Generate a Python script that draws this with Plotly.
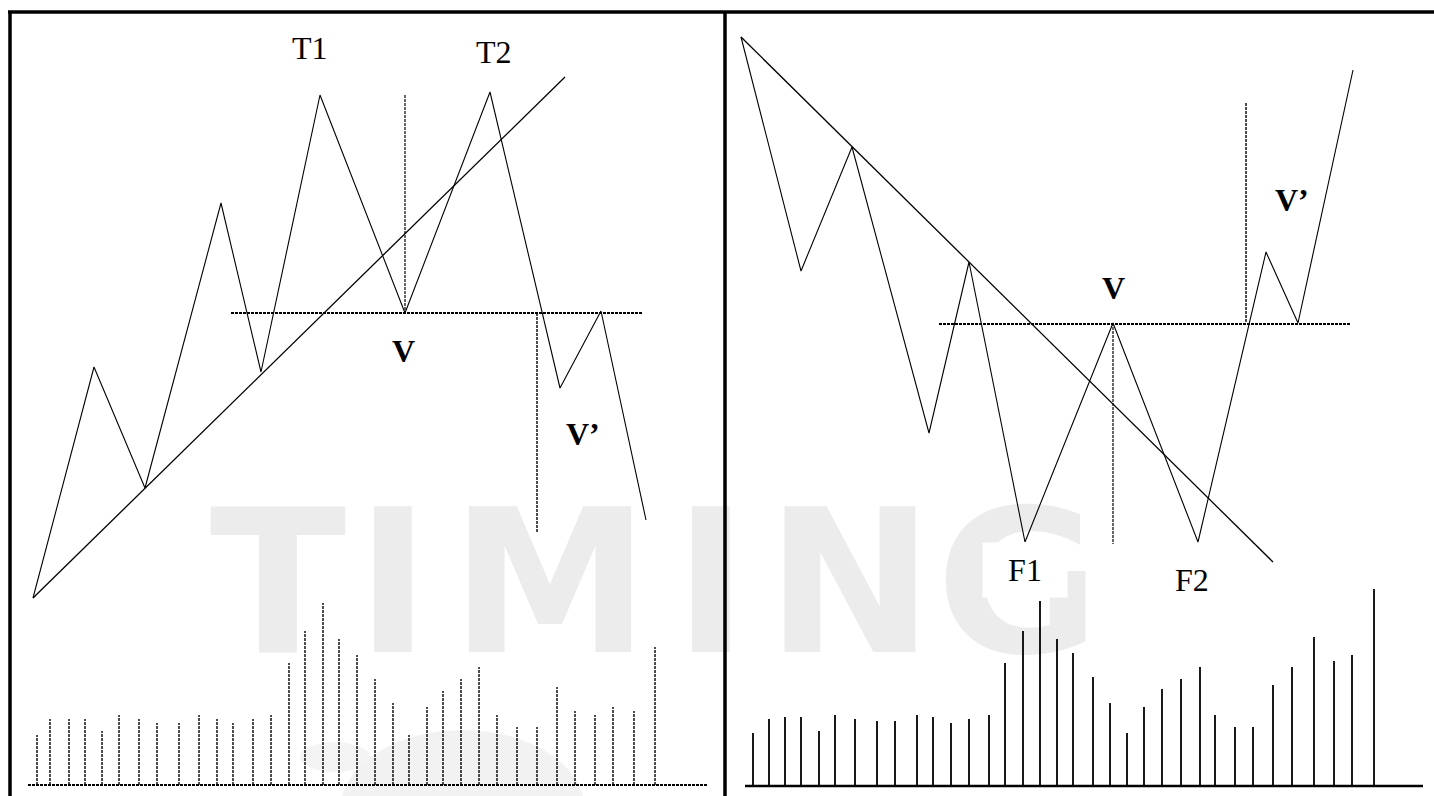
import plotly.graph_objects as go

# Page geometry (axis units = screen pixels, y grows downward)
W, H = 1434, 796
ink = '#000000'
mark_gray = '#ececec'
serif = 'Liberation Serif'

# ---- Left panel: double top ----
top_x = [33, 94, 145, 221, 261, 320, 405, 490, 560, 601, 646]
top_y = [598, 367, 488, 203, 372, 95, 313, 92, 388, 311, 520]
top_trend_x = [33, 565]
top_trend_y = [598, 77]
top_neck_x = [231, 642]
top_neck_y = [313, 313]
top_v_x = [405, 405]
top_v_y = [95, 313]
top_break_x = [537, 537]
top_break_y = [313, 533]

top_vol_x = [37, 50, 69, 85, 102, 119, 139, 157, 179, 199, 217, 233, 253, 271, 289, 305, 323, 339,
             357, 375, 393, 409, 427, 443, 461, 479, 497, 517, 537, 557, 575, 595, 613, 634, 655]
top_vol = [50, 66, 66, 66, 54, 70, 66, 62, 62, 70, 66, 62, 66, 70, 122, 154, 182, 146,
           130, 106, 82, 50, 78, 94, 106, 118, 70, 58, 58, 98, 74, 70, 78, 74, 138]
top_base = 785

# ---- Right panel: double bottom ----
bot_x = [741, 801, 852, 929, 969, 1025, 1113, 1198, 1266, 1298, 1353]
bot_y = [37, 271, 147, 433, 262, 542, 323, 542, 252, 323, 70]
bot_trend_x = [741, 1273]
bot_trend_y = [37, 562]
bot_neck_x = [939, 1350]
bot_neck_y = [324, 324]
bot_v_x = [1113, 1113]
bot_v_y = [323, 544]
bot_break_x = [1246, 1246]
bot_break_y = [103, 323]

bot_vol_x = [753, 769, 785, 801, 819, 835, 855, 877, 895, 917, 933, 951, 969, 989, 1005, 1023, 1040, 1057,
             1073, 1093, 1110, 1127, 1144, 1162, 1181, 1200, 1215, 1235, 1253, 1273, 1292, 1314, 1334, 1352, 1374]
bot_vol = [53, 67, 69, 69, 55, 71, 67, 65, 65, 71, 69, 63, 67, 71, 123, 155, 185, 147,
           133, 109, 83, 53, 79, 97, 107, 119, 71, 59, 59, 101, 119, 149, 125, 131, 197]
bot_base = 786

# Watermark letters
mark_letters = ['T', 'I', 'M', 'I', 'N', 'G']
mark_x = [278, 393, 550, 711, 850, 1018]
mark_y = [602] * 6


def stems(xs, vols, base):
    """Vertical volume sticks as one broken line."""
    sx, sy = [], []
    for x, v in zip(xs, vols):
        sx += [x, x, None]
        sy += [base, base - v, None]
    return sx, sy


def line(x, y, width=1.2, dash='solid'):
    return go.Scatter(x=x, y=y, mode='lines', hoverinfo='skip',
                      line=dict(color=ink, width=width, dash=dash))


fig = go.Figure()

# watermark goes first so the drawing sits on top of it
fig.add_trace(go.Scatter(
    x=mark_x, y=mark_y, mode='text', text=mark_letters, hoverinfo='skip',
    textposition='middle center',
    textfont=dict(family='DejaVu Sans', size=200, color=mark_gray, weight='bold'),
))

# left panel
fig.add_trace(line(top_x, top_y, 1.1))
fig.add_trace(line(top_trend_x, top_trend_y, 1.3))
fig.add_trace(line(top_neck_x, top_neck_y, 2, '3px,1px'))
fig.add_trace(line(top_v_x, top_v_y, 1.2, '3px,1px'))
fig.add_trace(line(top_break_x, top_break_y, 1.4, '3px,1px'))
sx, sy = stems(top_vol_x, top_vol, top_base)
fig.add_trace(line(sx, sy, 1.4, '3px,1px'))
fig.add_trace(line([28, 708], [top_base, top_base], 2, '3px,1px'))

# right panel
fig.add_trace(line(bot_x, bot_y, 1.1))
fig.add_trace(line(bot_trend_x, bot_trend_y, 1.3))
fig.add_trace(line(bot_neck_x, bot_neck_y, 2, '3px,1px'))
fig.add_trace(line(bot_v_x, bot_v_y, 1.2, '3px,1px'))
fig.add_trace(line(bot_break_x, bot_break_y, 1.4, '3px,1px'))
sx, sy = stems(bot_vol_x, bot_vol, bot_base)
fig.add_trace(line(sx, sy, 1.8))
fig.add_trace(line([745, 1423], [bot_base, bot_base], 2.5))

# frame
frame = dict(type='line', xref='x', yref='y', line=dict(color=ink, width=3.5))
shapes = [
    dict(frame, x0=8, x1=W, y0=12, y1=12),
    dict(frame, x0=10, x1=10, y0=12, y1=H),
    dict(frame, x0=725, x1=725, y0=12, y1=H),
    # faded logo blob under the watermark
    dict(type='circle', xref='x', yref='y', layer='below', line_width=0,
         fillcolor='#f2f2f2', x0=340, x1=585, y0=730, y1=890),
    dict(type='circle', xref='x', yref='y', layer='below', line_width=0,
         fillcolor='#f4f4f4', x0=300, x1=370, y0=742, y1=772),
]

# labels
labels = [
    ('T1', 310, 48, False), ('T2', 494, 52, False),
    ('V', 403, 351, True), ('V’', 583, 434, True),
    ('V', 1113, 288, True), ('V’', 1292, 200, True),
    ('F2', 1192, 580, False),
]
annotations = []
for txt, x, y, bold in labels:
    annotations.append(dict(
        x=x, y=y, xref='x', yref='y', text=f'<b>{txt}</b>' if bold else txt,
        showarrow=False, xanchor='center', yanchor='middle',
        font=dict(family=serif, size=32, color=ink),
    ))
# F1 sits on a white patch covering the watermark
annotations.append(dict(
    x=1025, y=570, xref='x', yref='y', text='F1', showarrow=False,
    xanchor='center', yanchor='middle', bgcolor='#ffffff',
    width=84, height=54, borderpad=0,
    font=dict(family=serif, size=32, color=ink),
))

fig.update_layout(
    width=W, height=H,
    margin=dict(l=0, r=0, t=0, b=0),
    paper_bgcolor='white', plot_bgcolor='white',
    showlegend=False,
    xaxis=dict(range=[0, W], visible=False, fixedrange=True),
    yaxis=dict(range=[H, 0], visible=False, fixedrange=True),
    shapes=shapes,
    annotations=annotations,
)

fig.write_html("out.html", config={'displayModeBar': False},
               post_script="document.body.style.margin='0';")
